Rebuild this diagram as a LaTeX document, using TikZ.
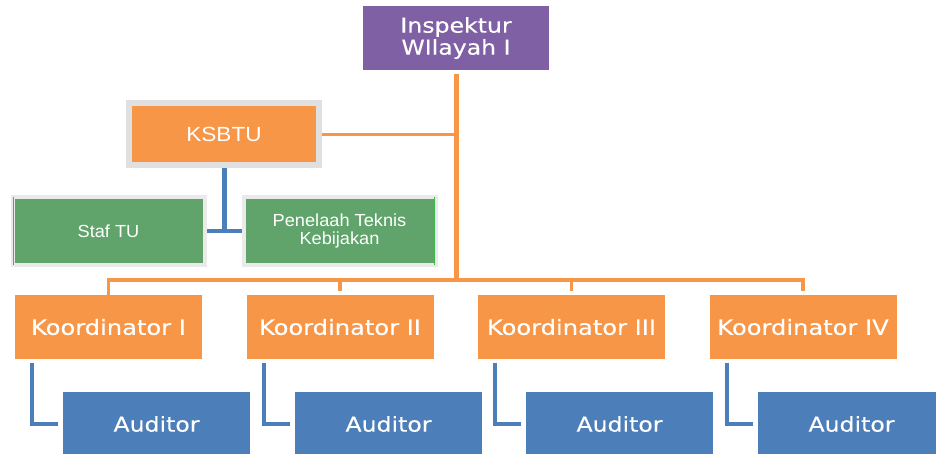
\documentclass[tikz,border=0pt]{standalone}
\usepackage{fontspec}
\newfontfamily\verd[FakeStretch=1.15,FakeBold=0.3]{DejaVu Sans}
\newfontfamily\ari[FakeStretch=1.1]{Liberation Sans}
\newfontfamily\arig[FakeStretch=1.04]{Liberation Sans}
\usetikzlibrary{backgrounds}
\definecolor{purp}{RGB}{128,96,164}
\definecolor{orng}{RGB}{247,150,70}
\definecolor{grn}{RGB}{96,164,108}
\definecolor{grnedge}{RGB}{60,185,75}
\definecolor{blu}{RGB}{76,127,185}
\definecolor{brd}{RGB}{224,224,224}
\definecolor{brdl}{RGB}{234,234,234}
\tikzset{
  base/.style={inner sep=0pt, text=white, align=center},
  purpbox/.style={base, fill=purp, minimum width=186pt, minimum height=64pt, font=\verd\fontsize{20.5}{22}\selectfont},
  ksbox/.style={base, fill=orng, draw=brd, line width=6pt, minimum width=190pt, minimum height=62pt, font=\ari\fontsize{20.5}{22}\selectfont},
  grnbox/.style={base, fill=grn, draw=brdl, line width=4pt, minimum width=192pt, minimum height=68pt, font=\arig\fontsize{17.5}{18.5}\selectfont},
  kbox/.style={base, fill=orng, minimum width=187pt, minimum height=64pt, font=\verd\fontsize{21}{22}\selectfont},
  abox/.style={base, fill=blu, minimum width=187pt, minimum height=64pt, font=\verd\fontsize{20.5}{22}\selectfont},
  oline/.style={draw=orng, line width=3.5pt},
  bline/.style={draw=blu, line width=4pt},
  edgeline/.style={draw=grnedge, line width=1.5pt},
}
\begin{document}
\begin{tikzpicture}[x=1pt,y=-1pt]
\clip (0,0) rectangle (936,454);

\node[purpbox] (insp) at (456,38) {Inspektur\\WIlayah I};
\node[ksbox] (ks) at (224,134.5) {KSBTU};
\node[grnbox] (staf) at (108.5,231) {Staf TU};
\node[grnbox] (pen) at (339.5,231) {Penelaah Teknis\\Kebijakan};

\node[kbox] (k1) at (108.5,327) {Koordinator I};
\node[kbox] (k2) at (340,327) {Koordinator II};
\node[kbox] (k3) at (571.5,327) {Koordinator III};
\node[kbox] (k4) at (803,327) {Koordinator IV};

\node[abox] (a1) at (156.5,424) {Auditor};
\node[abox] (a2) at (388.5,424) {Auditor};
\node[abox] (a3) at (619.5,424) {Auditor};
\node[abox] (a4) at (851.5,424) {Auditor};

\coordinate (bar) at (456,280);

\draw[edgeline] ([xshift=2.8pt,yshift=-2pt]staf.north west) -- ([xshift=2.8pt,yshift=2pt]staf.south west);
\draw[edgeline] ([xshift=-2.8pt,yshift=-2pt]pen.north east) -- ([xshift=-2.8pt,yshift=2pt]pen.south east);

\begin{pgfonlayer}{background}
  \draw[oline, line width=5pt, shorten <=4pt] (insp.south) -- (bar);
  \draw[oline] (ks.east) -- (ks.east -| insp.south);
  \draw[oline, shorten >=4pt] (k1.north) -- (k1.north |- bar) -- (k4.north |- bar) -- (k4.north);
  \draw[oline, shorten >=4pt] (k2.north |- bar) -- (k2.north);
  \draw[oline, shorten >=4pt] (k3.north |- bar) -- (k3.north);

  \draw[bline, line width=5pt] (ks.south) -- (ks.south |- staf.east);
  \draw[bline] (staf.east) -- (pen.west);

  \foreach \k/\a in {k1/a1,k2/a2,k3/a3,k4/a4}{
    \draw[bline, shorten >=5pt] ([xshift=17.5pt,yshift=-4pt]\k.south west) |- (\a.west);
  }
\end{pgfonlayer}
\end{tikzpicture}
\end{document}
